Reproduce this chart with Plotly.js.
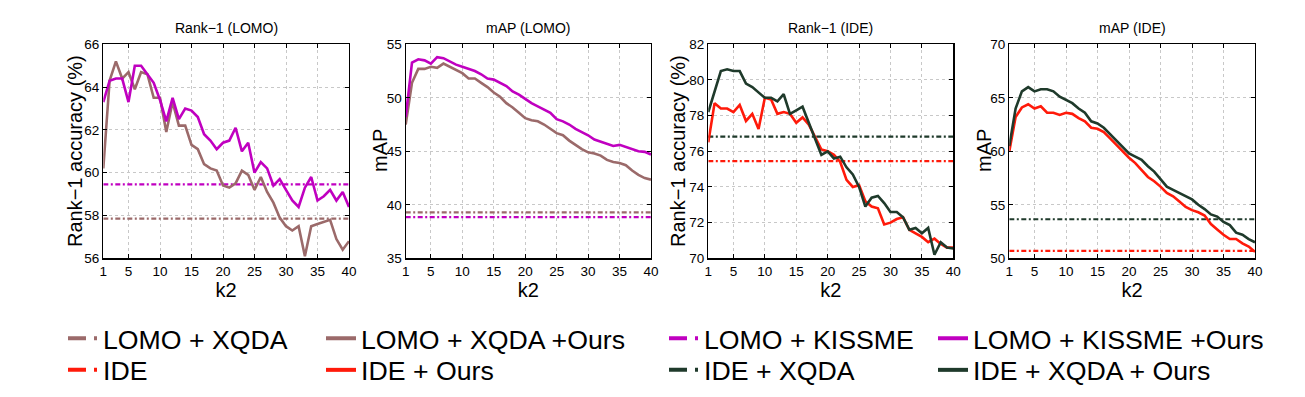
<!DOCTYPE html>
<html>
<head>
<meta charset="utf-8">
<script src="https://cdn.plot.ly/plotly-3.0.1.min.js"></script>
<style>html,body{margin:0;padding:0;background:#fff;}#chart{width:1305px;height:397px;}</style>
</head>
<body>
<div id="chart"></div>
<script>
const k2 = [1,2,3,4,5,6,7,8,9,10,11,12,13,14,15,16,17,18,19,20,21,22,23,24,25,26,27,28,29,30,31,32,33,34,35,36,37,38,39,40];
const kEnds = [1, 40];

// Rank-1 (LOMO)
const r1LomoXqdaOurs = [60.2,64.3,65.2,64.4,64.7,63.9,64.7,64.6,63.5,63.5,61.9,63.3,62.2,62.2,61.3,61.1,60.4,60.2,60.1,59.4,59.3,59.5,60.1,59.9,59.2,59.8,59.1,58.6,57.9,57.5,57.3,57.5,56.1,57.5,57.6,57.7,57.8,56.9,56.4,56.8];
const r1LomoKissmeOurs = [63.3,64.3,64.4,64.4,63.3,65.0,65.0,64.6,64.2,63.4,62.4,63.5,62.5,63.0,62.9,62.6,61.8,61.5,61.1,61.4,61.5,62.1,61.0,61.4,60.0,60.5,60.2,59.4,59.7,59.2,58.7,58.4,59.3,59.8,58.7,58.9,59.2,58.7,59.1,58.4];
const r1LomoXqda = 57.85;
const r1LomoKissme = 59.45;

// mAP (LOMO)
const mapLomoXqdaOurs = [47.5,51.4,52.7,52.7,52.9,52.8,53.2,52.9,52.6,52.3,51.8,51.8,51.4,51.0,50.5,50.1,49.5,49.1,48.6,48.1,47.9,47.8,47.5,47.1,46.7,46.5,46.0,45.6,45.2,44.9,44.8,44.6,44.2,44.0,43.9,43.7,43.2,42.8,42.5,42.35];
const mapLomoKissmeOurs = [48.2,53.3,53.6,53.5,53.2,53.8,53.7,53.4,53.1,52.9,52.7,52.5,52.2,51.8,51.7,51.4,51.1,50.6,50.3,49.9,49.5,49.2,48.9,48.6,48.0,47.8,47.5,47.1,46.8,46.5,46.1,45.9,45.7,45.5,45.6,45.4,45.2,45.0,44.95,44.7];
const mapLomoXqda = 39.3;
const mapLomoKissme = 38.85;

// Rank-1 (IDE)
const r1IdeOurs = [76.5,78.7,78.4,78.4,78.2,78.6,77.7,78.1,77.25,79.0,78.9,78.1,78.2,78.1,77.6,77.9,77.5,76.8,76.1,76.0,75.8,75.4,74.4,74.0,74.1,73.2,72.9,72.8,71.9,72.0,72.2,72.3,71.6,71.4,71.2,70.9,71.1,70.8,70.6,70.6];
const r1IdeXqdaOurs = [78.2,79.3,80.5,80.6,80.5,80.5,79.8,79.6,79.3,79.0,79.0,78.8,79.2,78.1,78.3,78.5,77.6,76.7,75.8,76.0,75.6,75.7,75.1,74.7,74.0,72.9,73.4,73.5,73.1,72.6,72.6,72.3,71.6,71.7,71.4,71.7,70.2,70.9,70.6,70.55];
const r1Ide = 75.45;
const r1IdeXqda = 76.82;

// mAP (IDE)
const mapIdeOurs = [60.0,63.2,64.1,64.4,64.0,64.2,63.6,63.6,63.4,63.6,63.5,63.1,62.8,62.2,62.1,61.8,61.2,60.6,59.9,59.4,58.9,58.2,57.6,57.2,56.7,56.1,55.8,55.3,54.8,54.5,54.3,54.0,53.2,52.7,52.2,51.8,51.8,51.4,51.1,50.6];
const mapIdeXqdaOurs = [60.5,64.0,65.6,66.0,65.6,65.8,65.8,65.6,65.1,64.8,64.5,64.0,63.6,62.8,62.6,62.2,61.6,61.0,60.3,59.8,59.5,59.2,58.6,58.1,57.4,56.7,56.4,56.1,55.8,55.5,55.0,54.6,54.1,53.9,53.4,53.1,52.4,52.2,51.8,51.5];
const mapIde = 50.7;
const mapIdeXqda = 53.65;

const panelTitles = ['Rank\u22121 (LOMO)', 'mAP (LOMO)', 'Rank\u22121 (IDE)', 'mAP (IDE)'];
const yTitles = ['Rank\u22121 accuracy (%)', 'mAP', 'Rank\u22121 accuracy (%)', 'mAP'];
const xTitle = 'k2';
const xTicks = [1,5,10,15,20,25,30,35,40];

const legendNames = ['LOMO + XQDA', 'LOMO + XQDA +Ours', 'LOMO + KISSME', 'LOMO + KISSME +Ours',
                     'IDE', 'IDE + Ours', 'IDE + XQDA', 'IDE + XQDA + Ours'];

const C = { brown: '#9b6a6a', mag: '#c000c0', red: '#ff1a0a', green: '#1f3a2b' };
const legendColors = [C.brown, C.brown, C.mag, C.mag, C.red, C.red, C.green, C.green];
const legendIsBase = [true, false, true, false, true, false, true, false];

const DD = '5px,2.5px,2px,2.5px';
const LEG_DD = '18px,8px,3px,60px';
const LW = 2.6, BW = 2.2;

function solid(y, ax, color) {
  return {x: k2, y: y, xaxis: 'x' + ax, yaxis: 'y' + ax, type: 'scatter', mode: 'lines',
    line: {color: color, width: LW}, showlegend: false, hoverinfo: 'skip'};
}
function base(v, ax, color) {
  return {x: kEnds, y: [v, v], xaxis: 'x' + ax, yaxis: 'y' + ax, type: 'scatter', mode: 'lines',
    line: {color: color, width: BW, dash: DD}, showlegend: false, hoverinfo: 'skip'};
}

const data = [
  base(r1LomoXqda, '', C.brown), base(r1LomoKissme, '', C.mag),
  solid(r1LomoXqdaOurs, '', C.brown), solid(r1LomoKissmeOurs, '', C.mag),
  base(mapLomoXqda, '2', C.brown), base(mapLomoKissme, '2', C.mag),
  solid(mapLomoXqdaOurs, '2', C.brown), solid(mapLomoKissmeOurs, '2', C.mag),
  base(r1Ide, '3', C.red), base(r1IdeXqda, '3', C.green),
  solid(r1IdeOurs, '3', C.red), solid(r1IdeXqdaOurs, '3', C.green),
  base(mapIde, '4', C.red), base(mapIdeXqda, '4', C.green),
  solid(mapIdeOurs, '4', C.red), solid(mapIdeXqdaOurs, '4', C.green)
];

// legend-only entries (one legend box per entry so that each can be placed)
legendNames.forEach((nm, i) => {
  data.push({
    x: [null], y: [null], type: 'scatter', mode: 'lines', name: nm,
    line: {color: legendColors[i], width: 4, dash: legendIsBase[i] ? LEG_DD : 'solid'},
    showlegend: true, legend: i === 0 ? 'legend' : 'legend' + (i + 1), hoverinfo: 'skip'
  });
});

const W = 1305, H = 397;
const px = v => v / W, py = v => 1 - v / H;
const xDom = [[103.3, 349], [405.7, 651], [708.3, 953.3], [1009.3, 1255]];
const yDom = [py(258.3), py(44.3)];
const yRanges = [[56, 66], [35, 55], [70, 82], [50, 70]];
const yDticks = [2, 5, 2, 5];
const yTitleX = [75, 380, 678, 984];

const FONT = 'Liberation Sans, Arial, Helvetica, sans-serif';
const layout = {
  width: W, height: H,
  margin: {l: 0, r: 0, t: 0, b: 0},
  paper_bgcolor: '#fff', plot_bgcolor: '#fff',
  font: {family: FONT, color: '#000'},
  annotations: [],
  showlegend: true
};

for (let i = 0; i < 4; i++) {
  const s = i === 0 ? '' : String(i + 1);
  layout['xaxis' + s] = {
    domain: [px(xDom[i][0]), px(xDom[i][1])], anchor: 'y' + s,
    range: [1, 40], tickvals: xTicks, ticktext: xTicks.map(String),
    showline: true, linecolor: '#000', linewidth: 1.2, mirror: 'ticks',
    ticks: 'inside', ticklen: 4, tickcolor: '#000',
    showgrid: true, gridcolor: '#c8c8c8', griddash: 'dot', gridwidth: 1,
    zeroline: false, tickfont: {size: 13.5, family: FONT},
    title: {text: xTitle, font: {size: 20, family: FONT}, standoff: 0}
  };
  layout['yaxis' + s] = {
    domain: yDom, anchor: 'x' + s,
    range: yRanges[i], dtick: yDticks[i], tick0: 0,
    showline: true, linecolor: '#000', linewidth: 1.2, mirror: 'ticks',
    ticks: 'inside', ticklen: 4, tickcolor: '#000',
    showgrid: true, gridcolor: '#c8c8c8', griddash: 'dot', gridwidth: 1,
    zeroline: false, tickfont: {size: 13.5, family: FONT}
  };
  layout.annotations.push({
    text: panelTitles[i], xref: 'paper', yref: 'paper',
    x: px((xDom[i][0] + xDom[i][1]) / 2), y: py(28), xanchor: 'center', yanchor: 'middle',
    showarrow: false, font: {size: 14, family: FONT}
  });
  layout.annotations.push({
    text: yTitles[i], xref: 'paper', yref: 'paper', textangle: -90,
    x: px(yTitleX[i]), y: py(151), xanchor: 'center', yanchor: 'middle',
    showarrow: false, font: {size: 20, family: FONT}
  });
}

const legColX = [63, 321, 664, 933];
const legRowY = [338.3, 370];
legendNames.forEach((nm, i) => {
  const key = i === 0 ? 'legend' : 'legend' + (i + 1);
  const col = i % 4, row = Math.floor(i / 4);
  layout[key] = {
    x: px(legColX[col]), y: py(legRowY[row]), xanchor: 'left', yanchor: 'middle',
    orientation: 'v', bgcolor: 'rgba(0,0,0,0)', borderwidth: 0,
    font: {size: 26.7, family: FONT, color: '#000'}, itemwidth: 30
  };
});

Plotly.newPlot('chart', data, layout, {displayModeBar: false, staticPlot: true});
</script>
</body>
</html>
